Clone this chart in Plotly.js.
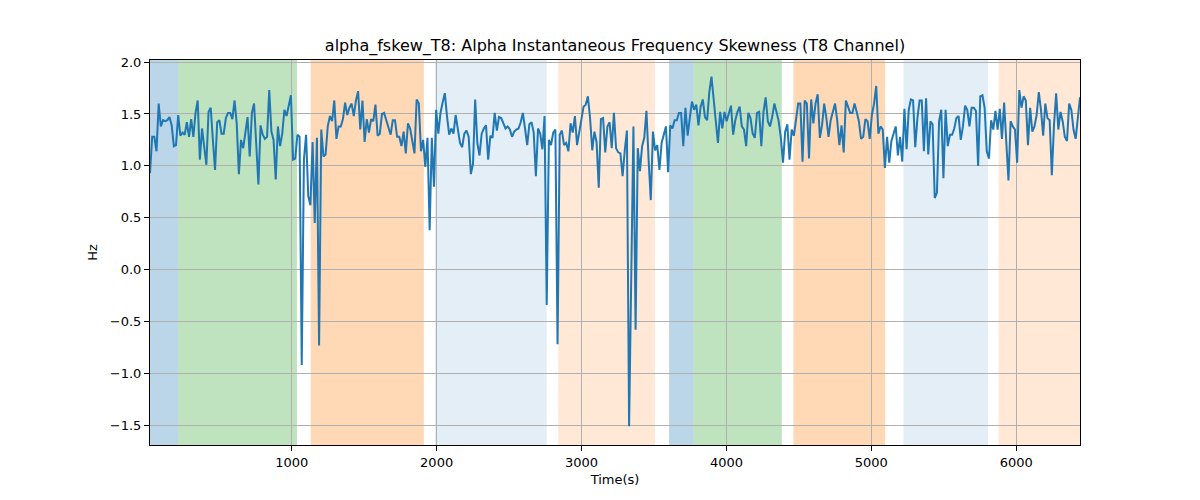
<!DOCTYPE html>
<html>
<head>
<meta charset="utf-8">
<script src="https://cdn.plot.ly/plotly-3.0.1.min.js"></script>
<style>
  body { margin: 0; background: #fff; }
  #chart { width: 1200px; height: 500px; }
</style>
</head>
<body>
<div id="chart"></div>
<script>
// alpha skewness, T8 channel, sampled at a fixed rate
var tStart = 22;
var tStep = 14.96;
var skew = [
  0.93,1.28,1.28,1.14,1.60,1.38,1.44,1.43,1.44,1.47,
  1.39,1.19,1.20,1.49,1.29,1.32,1.30,1.42,1.28,1.45,
  1.28,1.51,1.63,1.06,1.36,1.15,1.01,1.52,1.56,1.25,
  0.96,1.42,1.44,1.31,1.31,1.46,1.51,1.51,1.45,1.63,
  1.41,0.92,1.25,1.17,1.33,1.47,1.09,1.51,1.60,1.22,
  0.82,1.39,1.30,1.26,
  1.28,1.73,1.33,1.25,0.87,1.38,1.19,1.31,1.54,1.48,
  1.60,1.68,1.06,1.07,1.30,1.28,-0.92,1.06,1.30,0.71,
  0.62,1.23,0.45,1.27,-0.73,1.35,1.09,1.11,1.38,1.48,
  1.43,1.63,1.26,1.38,1.38,1.45,1.61,1.49,1.56,1.60,
  1.48,1.63,1.72,1.35,1.63,1.23,1.45,1.32,1.45,1.43,
  1.59,1.29,1.31,1.50,1.51,1.44,
  1.38,1.30,1.44,1.44,1.28,1.28,1.19,1.33,1.12,1.41,
  1.36,1.25,1.12,1.64,1.60,1.14,1.25,0.99,1.27,0.38,
  1.27,0.80,1.54,1.31,1.51,1.61,1.70,1.48,1.30,1.36,
  1.31,1.49,1.35,1.22,1.18,1.31,1.34,1.28,0.92,1.02,
  1.64,1.22,1.10,1.31,1.36,1.39,1.06,1.29,1.27,1.51,
  1.34,1.47,
  1.46,1.41,1.36,1.38,1.35,1.28,1.33,1.35,1.36,1.42,
  1.51,1.36,1.20,1.40,1.42,1.32,0.90,1.36,1.31,1.16,
  1.48,-0.34,1.25,1.20,1.32,1.35,-0.72,1.30,1.34,1.20,
  1.22,1.14,1.41,1.32,1.48,1.20,1.32,1.43,1.57,1.59,
  1.67,1.46,1.15,1.33,1.23,0.79,1.45,1.46,1.13,1.38,
  1.42,1.17,1.51,1.17,
  1.13,1.12,0.90,1.15,1.34,-1.51,-0.06,1.38,-0.58,1.17,
  0.95,1.19,1.27,1.53,1.06,0.67,1.33,1.15,1.20,0.96,
  1.22,1.31,1.38,0.94,1.39,1.36,1.44,1.44,1.51,1.51,
  1.19,1.56,1.29,1.46,1.62,1.54,1.59,1.39,1.57,1.64,
  1.47,1.44,1.71,1.86,1.60,1.43,1.22,1.52,1.36,1.52,
  1.43,1.50,1.58,1.30,1.44,1.52,1.57,1.38,1.35,1.19,
  1.51,1.46,1.31,1.27,1.51,1.52,1.19,1.52,1.66,1.43,
  1.38,1.47,1.60,1.52,1.43,1.27,1.03,1.33,1.40,1.06,
  1.35,1.29,1.47,1.60,1.60,1.04,1.63,1.60,1.07,1.64,
  1.41,1.60,1.69,1.27,1.39,1.60,1.46,1.28,1.44,1.51,
  1.60,1.44,1.20,
  1.39,1.13,1.63,1.57,1.51,1.51,1.60,1.52,1.43,1.26,
  1.28,1.45,1.43,1.26,1.49,1.60,1.77,1.31,1.38,1.35,
  0.98,1.28,1.03,1.24,1.30,1.38,1.10,1.28,1.04,1.55,
  1.16,1.54,1.64,1.63,1.18,1.46,1.63,1.63,1.14,1.65,
  1.11,1.43,1.40,0.69,0.74,1.43,1.54,0.88,1.54,1.19,
  1.30,1.30,1.36,1.46,1.48,1.25,1.38,1.58,1.54,1.38,
  1.56,1.56,1.53,1.00,1.67,1.68,1.56,1.14,1.07,1.44,
  1.35,1.53,1.35,1.55,1.26,1.61,1.23,0.86,1.43,1.38,
  1.35,1.03,1.73,1.56,1.67,1.63,1.20,1.56,1.33,1.38,
  1.49,1.71,1.54,1.29,1.60,1.46,1.44,0.91,1.39,1.70,
  1.35,1.52,1.43,1.28,1.24,1.60,1.54,1.35,1.26,1.49,1.66
];

// shaded segments (seconds)
var segStart = [22, 216, 1131, 1988, 2839, 3604, 3772, 4462, 5222, 5878];
var segEnd   = [216, 1036, 1912, 2760, 3507, 3772, 4382, 5095, 5805, 6440];
var segKind  = ['blue', 'green', 'orange', 'lightblue', 'lightorange',
                'blue', 'green', 'orange', 'lightblue', 'lightorange'];

var fills = {
  blue: 'rgba(31,119,180,0.3)',
  green: 'rgba(44,160,44,0.3)',
  orange: 'rgba(255,127,14,0.3)',
  lightblue: 'rgba(31,119,180,0.12)',
  lightorange: 'rgba(255,127,14,0.17)'
};

var time = skew.map(function (v, i) { return tStart + tStep * i; });

var shapes = segStart.map(function (s, i) {
  return {
    type: 'rect', xref: 'x', yref: 'paper',
    x0: s, x1: segEnd[i], y0: 0, y1: 1,
    fillcolor: fills[segKind[i]], line: { width: 0 }, layer: 'below'
  };
});

var trace = {
  x: time, y: skew, type: 'scatter', mode: 'lines',
  line: { color: '#1f77b4', width: 2 }, hoverinfo: 'x+y'
};

var font = { family: 'DejaVu Sans', size: 13, color: '#000' };

var layout = {
  width: 1200, height: 500,
  margin: { l: 150, r: 120, t: 60, b: 55 },
  paper_bgcolor: '#fff', plot_bgcolor: '#fff',
  font: font,
  showlegend: false,
  title: {
    text: 'alpha_fskew_T8: Alpha Instantaneous Frequency Skewness (T8 Channel)',
    font: { family: 'DejaVu Sans', size: 16, color: '#000' },
    x: 0.5125, xanchor: 'center', y: 0.898, yanchor: 'bottom'
  },
  xaxis: {
    title: { text: 'Time(s)', font: font, standoff: 6 },
    range: [time[0], time[time.length - 1]],
    tickvals: [1000, 2000, 3000, 4000, 5000, 6000],
    showgrid: true, gridcolor: '#b0b0b0', gridwidth: 1,
    zeroline: false,
    showline: true, linecolor: '#000', linewidth: 1, mirror: true,
    ticks: 'outside', ticklen: 5, tickcolor: '#000', tickwidth: 1
  },
  yaxis: {
    title: { text: 'Hz', font: font, standoff: 9 },
    range: [-1.69, 2.02],
    tickvals: [-1.5, -1.0, -0.5, 0, 0.5, 1.0, 1.5, 2.0],
    tickformat: '.1f',
    showgrid: true, gridcolor: '#b0b0b0', gridwidth: 1,
    zeroline: false,
    showline: true, linecolor: '#000', linewidth: 1, mirror: true,
    ticks: 'outside', ticklen: 5, tickcolor: '#000', tickwidth: 1
  },
  shapes: shapes
};

Plotly.newPlot('chart', [trace], layout, { displayModeBar: false, staticPlot: true });
</script>
</body>
</html>
